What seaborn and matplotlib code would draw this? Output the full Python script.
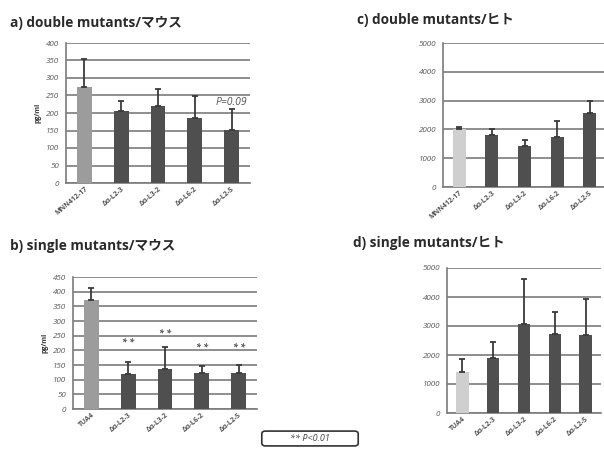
import numpy as np
import pandas as pd
import matplotlib
matplotlib.use("Agg")
import matplotlib.pyplot as plt
import seaborn as sns
from matplotlib.patches import FancyBboxPatch

# ---- data -------------------------------------------------------------
double_labels = ["MNN412-17", "Δα-L2-3", "Δα-L3-2", "Δα-L6-2", "Δα-L2-5"]
single_labels = ["TUA4", "Δα-L2-3", "Δα-L3-2", "Δα-L6-2", "Δα-L2-5"]

mouse_double_mean = [275, 205, 220, 185, 152]
mouse_double_sd = [80, 30, 48, 63, 60]

mouse_single_mean = [373, 120, 136, 123, 123]
mouse_single_sd = [39, 39, 75, 25, 26]
mouse_single_marks = ["", "**", "**", "**", "**"]
mouse_single_mark_y = [0, 227, 259, 208, 211]

human_double_mean = [2000, 1810, 1440, 1750, 2580]
human_double_sd = [75, 195, 190, 550, 420]

human_single_mean = [1420, 1900, 3060, 2740, 2700]
human_single_sd = [440, 550, 1570, 760, 1240]

# ---- style ------------------------------------------------------------
sns.set_theme(style="white")
plt.rcParams["font.family"] = ["Open Sans", "Noto Sans CJK JP", "DejaVu Sans"]

DARK = "#4f4f4f"
MID = "#9c9c9c"
LIGHT = "#cfcfcf"
GRID = "#7c7c7c"
TXT = "#555555"

fig = plt.figure(figsize=(6.04, 4.58), dpi=100)
W, H = 604, 458


def px_axes(left, top, right, bottom):
    return fig.add_axes([left / W, 1 - bottom / H, (right - left) / W, (bottom - top) / H])


def panel(ax, labels, means, sds, first_color, ymax, step, ylabel=None):
    df = pd.DataFrame({"strain": labels, "value": means})
    df["strain"] = pd.Categorical(df["strain"], categories=list(dict.fromkeys(labels)))
    palette = [first_color] + [DARK] * (len(labels) - 1)
    sns.barplot(data=df, x="strain", y="value", hue="strain", palette=palette,
                legend=False, width=0.4, saturation=1, ax=ax, errorbar=None,
                edgecolor="none", zorder=3)
    ax.errorbar(np.arange(len(means)), means,
                yerr=[np.zeros(len(sds)), sds], fmt="none", ecolor="#3a3a3a",
                elinewidth=1.3, capsize=2.5, capthick=1.3, zorder=4)
    ax.set_ylim(0, ymax)
    ax.set_xlim(-0.5, len(labels) - 0.5)
    ax.set_yticks(np.arange(0, ymax + 1, step))
    ax.yaxis.grid(True, color=GRID, linewidth=1.2, zorder=0)
    ax.set_axisbelow(True)
    for side in ("top", "right"):
        ax.spines[side].set_visible(False)
    ax.spines["left"].set_color(GRID)
    ax.spines["bottom"].set_color(GRID)
    ax.spines["left"].set_linewidth(1.2)
    ax.spines["bottom"].set_linewidth(1.2)
    ax.tick_params(axis="y", length=3, color=GRID, labelsize=5.8, labelcolor=TXT, pad=2)
    ax.tick_params(axis="x", length=0, labelsize=5, labelcolor=TXT, pad=2)
    for t in ax.get_yticklabels():
        t.set_fontstyle("italic")
    ax.set_xticks(range(len(labels)))
    ax.set_xticklabels(labels, rotation=40, ha="right", rotation_mode="anchor",
                       fontweight="bold")
    ax.set_xlabel("")
    if ylabel:
        ax.set_ylabel(ylabel, fontsize=5, fontweight="bold", color="#333333", labelpad=3)
    else:
        ax.set_ylabel("")


title_kw = dict(fontsize=9.8, fontweight="bold", color="#2a2a2a",
                family=["Open Sans", "Noto Sans CJK JP"], va="center", ha="left")

# a) double mutants / mouse
ax_a = px_axes(66, 43, 250, 183)
panel(ax_a, double_labels, mouse_double_mean, mouse_double_sd, MID, 400, 50, "pg/ml")
ax_a.text(4, 230, "P=0.09", ha="center", va="center", fontsize=7.5,
          fontstyle="italic", color="#555555", zorder=5)
fig.text(10 / W, 1 - 23 / H, "a) double mutants/マウス", **title_kw)

# b) single mutants / mouse
ax_b = px_axes(73, 277, 257, 409)
panel(ax_b, single_labels, mouse_single_mean, mouse_single_sd, MID, 450, 50, "pg/ml")
for i, (m, y) in enumerate(zip(mouse_single_marks, mouse_single_mark_y)):
    if m:
        ax_b.text(i, y, "* *", ha="center", va="center", fontsize=6.5,
                  fontweight="bold", fontstyle="italic", color="#555555", zorder=5)
fig.text(10 / W, 1 - 246 / H, "b) single mutants/マウス", **title_kw)

# c) double mutants / human
ax_c = px_axes(443, 43, 606, 187)
panel(ax_c, double_labels, human_double_mean, human_double_sd, LIGHT, 5000, 1000)
fig.text(357 / W, 1 - 20 / H, "c) double mutants/ヒト", **title_kw)

# d) single mutants / human
ax_d = px_axes(447, 268, 601, 413)
panel(ax_d, single_labels, human_single_mean, human_single_sd, LIGHT, 5000, 1000)
fig.text(353 / W, 1 - 243 / H, "d) single mutants/ヒト", **title_kw)

# significance key
box = FancyBboxPatch((263 / W, 1 - 445 / H), 94 / W, 13 / H,
                     boxstyle="round,pad=0.002,rounding_size=0.006",
                     transform=fig.transFigure, facecolor="white",
                     edgecolor="#333333", linewidth=1.2)
fig.patches.append(box)
fig.text(310 / W, 1 - 438.5 / H, "** P<0.01", ha="center", va="center",
         fontsize=6.5, fontstyle="italic", color="#444444")

fig.savefig("out.png", dpi=100, facecolor="white")
